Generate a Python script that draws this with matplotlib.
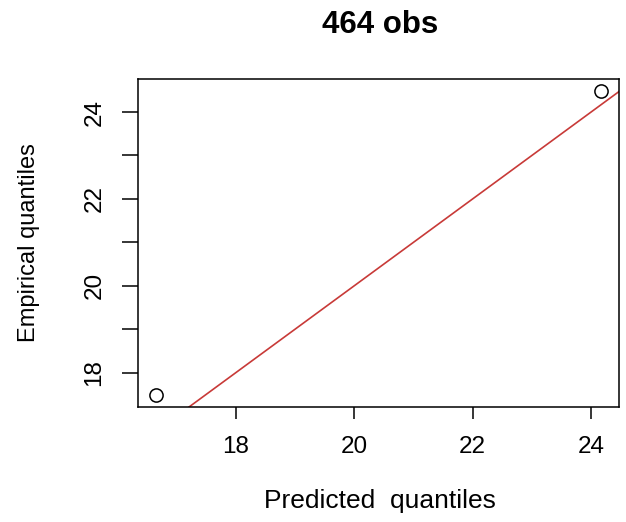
import numpy as np
import matplotlib.pyplot as plt

plt.rcParams['font.family'] = ['Liberation Sans', 'DejaVu Sans']

# quantile pairs (predicted, empirical)
predicted = [16.65, 24.17]
empirical = [17.49, 24.48]
n_obs = 464

x_ticks = [18, 20, 22, 24]
y_ticks = [18, 19, 20, 21, 22, 23, 24]
y_labels = ['18', '', '20', '', '22', '', '24']

W, H = 626, 522
fig = plt.figure(figsize=(W / 100, H / 100), dpi=100)
ax = fig.add_axes([138 / W, 1 - 407 / H, (619 - 138) / W, (407 - 79) / H])

ax.plot(predicted, empirical, 'o', mfc='none', mec='black', ms=9.5, mew=1.1)
ax.axline((20, 20), slope=1, color='#c83a38', lw=1.2)

# R-style 4% padding around data range
xr = max(predicted) - min(predicted)
yr = max(empirical) - min(empirical)
ax.set_xlim(min(predicted) - 0.04 * xr, max(predicted) + 0.04 * xr)
ax.set_ylim(min(empirical) - 0.04 * yr, max(empirical) + 0.04 * yr)

ax.set_xticks(x_ticks)
ax.set_yticks(y_ticks)
ax.set_yticklabels(y_labels, rotation=90, va='center')
ax.tick_params(axis='x', length=8.6, width=1.1, labelsize=17.5, pad=12)
ax.tick_params(axis='y', length=11.5, width=1.1, labelsize=17.5, pad=12)
for s in ax.spines.values():
    s.set_linewidth(1.1)

fig.text(380 / W, 1 - 508 / H, 'Predicted  quantiles', ha='center',
         va='baseline', fontsize=19)
fig.text(29 / W, 1 - 243 / H, 'Empirical quantiles', rotation=90,
         ha='center', va='center', fontsize=17)
fig.text(380 / W, 1 - 33 / H, f'{n_obs} obs', ha='center', va='baseline',
         fontsize=22.5, fontweight='bold')

fig.savefig('out.png', dpi=100)
